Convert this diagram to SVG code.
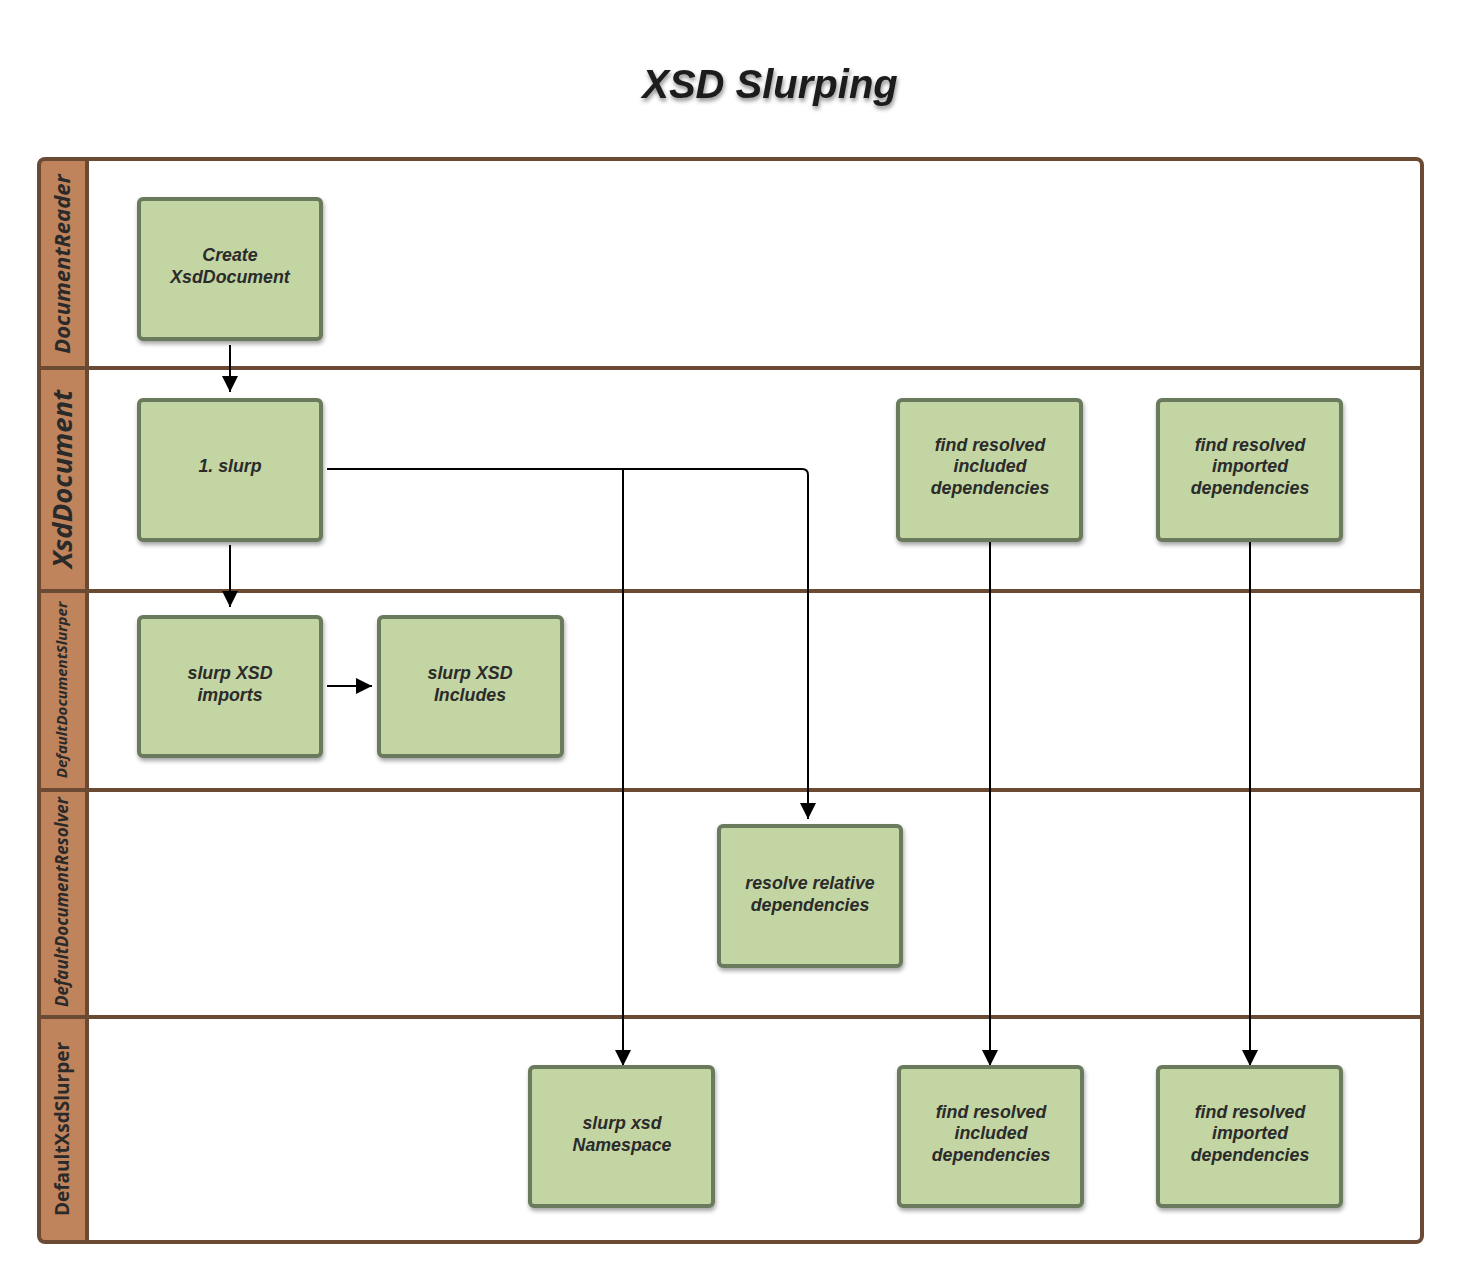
<svg xmlns="http://www.w3.org/2000/svg" width="1463" height="1282" viewBox="0 0 1463 1282">
<style>
.lane{fill:none;stroke:#6a4a33;stroke-width:4}
.hdr{fill:#c0845c}
.ln{font-family:"Open Sans","Liberation Sans",sans-serif;font-weight:bold;font-style:italic;fill:#2a2a2a;text-anchor:middle}
.node rect{fill:#c3d5a3;stroke:#6b7a5b;stroke-width:4}
.node text{font-family:"Liberation Sans",Arial,sans-serif;font-size:17.8px;font-weight:bold;font-style:italic;fill:#2b2b2b;text-anchor:middle}
.c{fill:none;stroke:#000;stroke-width:2}
</style>
<defs>
<marker id="ah" viewBox="0 0 10 10" refX="10" refY="5" markerWidth="16" markerHeight="16" markerUnits="userSpaceOnUse" orient="auto"><path d="M0,0 L10,5 L0,10 z" fill="#000"/></marker>
<filter id="sh" x="-10%" y="-10%" width="130%" height="130%"><feDropShadow dx="1" dy="3" stdDeviation="2" flood-color="#000" flood-opacity="0.35"/></filter>
<filter id="tsh" x="-10%" y="-20%" width="130%" height="160%"><feDropShadow dx="1" dy="3" stdDeviation="2" flood-color="#000" flood-opacity="0.45"/></filter>
</defs>
<rect width="1463" height="1282" fill="#fff"/>
<text x="770" y="98" font-family="Liberation Sans,Arial,sans-serif" font-size="40" font-weight="bold" font-style="italic" fill="#1a1a1a" text-anchor="middle" filter="url(#tsh)">XSD Slurping</text>
<g id="pool">
<rect x="39" y="159" width="48" height="1083" class="hdr"/>
<rect x="39" y="159" width="1383" height="1083" rx="6" class="lane"/>
<line x1="87" y1="159" x2="87" y2="1242" class="lane"/>
<line x1="39" y1="368" x2="1422" y2="368" class="lane"/>
<line x1="39" y1="591" x2="1422" y2="591" class="lane"/>
<line x1="39" y1="790" x2="1422" y2="790" class="lane"/>
<line x1="39" y1="1017" x2="1422" y2="1017" class="lane"/>
<text class="ln" font-size="22" transform="translate(70,264) rotate(-90)">DocumentReader</text>
<text class="ln" font-size="27.5" transform="translate(72,479) rotate(-90)">XsdDocument</text>
<text class="ln" font-size="15" transform="translate(67,690) rotate(-90)">DefaultDocumentSlurper</text>
<text class="ln" font-size="17" transform="translate(68,902) rotate(-90)">DefaultDocumentResolver</text>
<text class="ln" font-size="19" transform="translate(69,1129) rotate(-90)" style="font-style:normal">DefaultXsdSlurper</text>
</g>
<g id="connectors">
<path class="c" d="M230,345 V392" marker-end="url(#ah)"/>
<path class="c" d="M230,545 V607" stroke-width="1.5" marker-end="url(#ah)"/>
<path class="c" d="M327,686 H372" marker-end="url(#ah)"/>
<path class="c" d="M327,469 H802 Q808,469 808,475 V819" marker-end="url(#ah)"/>
<path class="c" d="M623,469 V1066" marker-end="url(#ah)"/>
<path class="c" d="M990,541 V1066" marker-end="url(#ah)"/>
<path class="c" d="M1250,541 V1066" marker-end="url(#ah)"/>
</g>
<g id="n1" class="node"><rect x="139" y="199" width="182" height="140" rx="4" filter="url(#sh)"/><text x="230" y="261">Create</text><text x="230" y="283">XsdDocument</text></g>
<g id="n2" class="node"><rect x="139" y="400" width="182" height="140" rx="4" filter="url(#sh)"/><text x="230" y="472">1. slurp</text></g>
<g id="n3" class="node"><rect x="898" y="400" width="183" height="140" rx="4" filter="url(#sh)"/><text x="990" y="451">find resolved</text><text x="990" y="472">included</text><text x="990" y="494">dependencies</text></g>
<g id="n4" class="node"><rect x="1158" y="400" width="183" height="140" rx="4" filter="url(#sh)"/><text x="1250" y="451">find resolved</text><text x="1250" y="472">imported</text><text x="1250" y="494">dependencies</text></g>
<g id="n5" class="node"><rect x="139" y="617" width="182" height="139" rx="4" filter="url(#sh)"/><text x="230" y="679">slurp XSD</text><text x="230" y="701">imports</text></g>
<g id="n6" class="node"><rect x="379" y="617" width="183" height="139" rx="4" filter="url(#sh)"/><text x="470" y="679">slurp XSD</text><text x="470" y="701">Includes</text></g>
<g id="n7" class="node"><rect x="719" y="826" width="182" height="140" rx="4" filter="url(#sh)"/><text x="810" y="889">resolve relative</text><text x="810" y="911">dependencies</text></g>
<g id="n8" class="node"><rect x="530" y="1067" width="183" height="139" rx="4" filter="url(#sh)"/><text x="622" y="1129">slurp xsd</text><text x="622" y="1151">Namespace</text></g>
<g id="n9" class="node"><rect x="899" y="1067" width="183" height="139" rx="4" filter="url(#sh)"/><text x="991" y="1118">find resolved</text><text x="991" y="1139">included</text><text x="991" y="1161">dependencies</text></g>
<g id="n10" class="node"><rect x="1158" y="1067" width="183" height="139" rx="4" filter="url(#sh)"/><text x="1250" y="1118">find resolved</text><text x="1250" y="1139">imported</text><text x="1250" y="1161">dependencies</text></g>
</svg>
